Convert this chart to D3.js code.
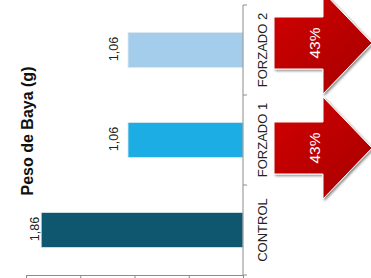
<!DOCTYPE html>
<html lang="es">
<head>
    <meta charset="UTF-8">
    <script src="https://d3js.org/d3.v7.min.js" charset="utf-8"></script>
    <title>Peso de Baya</title>
    <style>
        body { margin: 0; background: #fff; }
        svg { display: block; font-family: "Liberation Sans", Arial, sans-serif; }
    </style>
</head>
<body>
    <div id="chart"></div>
    <script>
        const width = 371;
        const height = 278;

        // categories, bottom to top (chart is turned on its side)
        const categories = ["CONTROL", "FORZADO 1", "FORZADO 2"];
        const pesoBaya = [1.86, 1.06, 1.06];
        const valueLabels = ["1,86", "1,06", "1,06"];
        const barColors = ["#0e576f", "#1badE4", "#a4cdec"];
        const valueTicks = [0, 0.5, 1, 1.5, 2];
        const axisTitle = "Peso de Baya (g)";

        // arrows showing the drop vs control
        const arrowCats = ["FORZADO 2", "FORZADO 1"];
        const arrowLabels = ["43%", "43%"];
        const arrowShift = [-7, 8];

        const svg = d3.select("#chart").append("svg")
            .attr("width", width)
            .attr("height", height);

        const defs = svg.append("defs");
        const grad = defs.append("linearGradient")
            .attr("id", "redGrad")
            .attr("x1", "0").attr("y1", "0")
            .attr("x2", "1").attr("y2", "1");
        grad.append("stop").attr("offset", "0%").attr("stop-color", "#d20000");
        grad.append("stop").attr("offset", "100%").attr("stop-color", "#a60000");

        const shadow = defs.append("filter").attr("id", "shadow")
            .attr("x", "-20%").attr("y", "-20%").attr("width", "140%").attr("height", "140%");
        shadow.append("feDropShadow")
            .attr("dx", 1.5).attr("dy", 1.5).attr("stdDeviation", 1.2)
            .attr("flood-color", "#000").attr("flood-opacity", 0.45);

        // scales: values run right-to-left, categories bottom-to-top
        const x = d3.scaleLinear().domain([0, 2]).range([243, 26]);
        const y = d3.scaleBand().domain(categories).range([275, 5]).paddingInner(0);
        const barH = y.bandwidth() * 0.39;

        // bars
        svg.selectAll("rect.bar")
            .data(categories)
            .enter()
            .append("rect")
            .attr("class", "bar")
            .attr("x", (d, i) => x(pesoBaya[i]))
            .attr("y", d => y(d) + (y.bandwidth() - barH) / 2)
            .attr("width", (d, i) => x(0) - x(pesoBaya[i]))
            .attr("height", barH)
            .attr("fill", (d, i) => barColors[i])
            .attr("stroke", "#dfe9ef")
            .attr("stroke-width", 0.8);

        // value labels, rotated
        svg.selectAll("text.val")
            .data(categories)
            .enter()
            .append("text")
            .attr("class", "val")
            .attr("transform", (d, i) => {
                const tx = Math.max(x(pesoBaya[i]) - 10, 39);
                const ty = y(d) + y.bandwidth() / 2 - 1;
                return `translate(${tx},${ty}) rotate(-90)`;
            })
            .attr("text-anchor", "middle")
            .attr("font-size", 12.5)
            .attr("fill", "#222")
            .text((d, i) => valueLabels[i]);

        // value axis at the bottom (labels fall outside the picture)
        svg.append("g")
            .attr("transform", "translate(0,275)")
            .call(d3.axisBottom(x).tickValues(valueTicks).tickSize(5).tickFormat(""))
            .call(g => g.select(".domain").attr("stroke", "#8c8c8c"))
            .call(g => g.selectAll(".tick line").attr("stroke", "#8c8c8c"));

        // category axis on the right, ticks between categories
        const catAxis = svg.append("g");
        catAxis.append("line")
            .attr("x1", x(0)).attr("x2", x(0))
            .attr("y1", y.range()[1]).attr("y2", y.range()[0])
            .attr("stroke", "#8c8c8c");
        const bounds = categories.map(c => y(c)).concat([y.range()[0]]);
        catAxis.selectAll("line.tk")
            .data(bounds)
            .enter()
            .append("line")
            .attr("class", "tk")
            .attr("x1", x(0)).attr("x2", x(0) + 4)
            .attr("y1", d => d).attr("y2", d => d)
            .attr("stroke", "#8c8c8c");
        catAxis.selectAll("text")
            .data(categories)
            .enter()
            .append("text")
            .attr("transform", d => `translate(267,${y(d) + y.bandwidth() / 2}) rotate(-90)`)
            .attr("text-anchor", "middle")
            .attr("font-size", 13)
            .attr("fill", "#222")
            .text(d => d);

        // axis title
        svg.append("text")
            .attr("transform", "translate(33,131) rotate(-90)")
            .attr("text-anchor", "middle")
            .attr("font-size", 16)
            .attr("font-weight", "bold")
            .attr("fill", "#111")
            .text(axisTitle);

        // red arrows pointing right
        const arrowPath = (cy) => {
            const x0 = 274, xb = 323, tip = 372, sw = 26, hw = 51;
            return `M${x0},${cy - sw}L${xb},${cy - sw}L${xb},${cy - hw}L${tip},${cy}` +
                `L${xb},${cy + hw}L${xb},${cy + sw}L${x0},${cy + sw}Z`;
        };
        const arrows = svg.selectAll("g.arrow")
            .data(arrowCats)
            .enter()
            .append("g")
            .attr("class", "arrow");
        arrows.append("path")
            .attr("d", (d, i) => arrowPath(y(d) + y.bandwidth() / 2 + arrowShift[i]))
            .attr("fill", "url(#redGrad)")
            .attr("stroke", "#ffffff")
            .attr("stroke-width", 1)
            .attr("filter", "url(#shadow)");
        arrows.append("text")
            .attr("transform", (d, i) => `translate(320,${y(d) + y.bandwidth() / 2 + arrowShift[i]}) rotate(-90)`)
            .attr("text-anchor", "middle")
            .attr("font-size", 15.5)
            .attr("fill", "#ffffff")
            .text((d, i) => arrowLabels[i]);
    </script>
</body>
</html>
